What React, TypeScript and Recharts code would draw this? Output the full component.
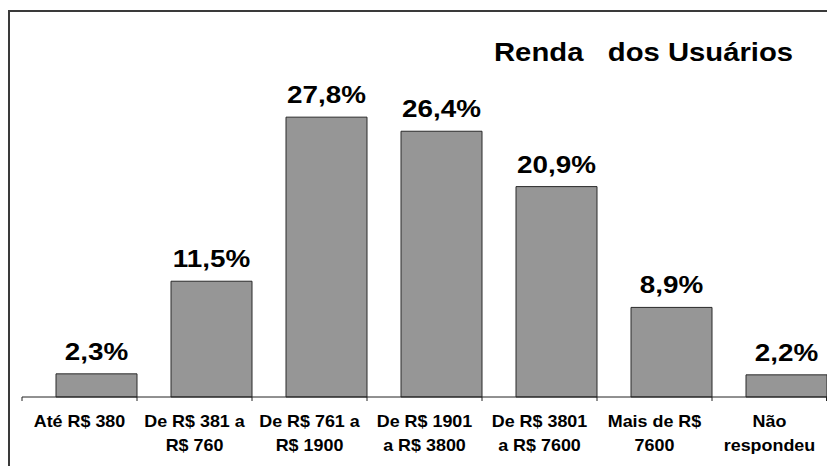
import React from "react";
import { BarChart, Bar, XAxis, YAxis, LabelList } from "recharts";

const categories = [
  "Até R$ 380",
  "De R$ 381 a R$ 760",
  "De R$ 761 a R$ 1900",
  "De R$ 1901 a R$ 3800",
  "De R$ 3801 a R$ 7600",
  "Mais de R$ 7600",
  "Não respondeu",
];

const tickLines: string[][] = [
  ["Até R$ 380"],
  ["De R$ 381 a", "R$ 760"],
  ["De R$ 761 a", "R$ 1900"],
  ["De R$ 1901", "a R$ 3800"],
  ["De R$ 3801", "a R$ 7600"],
  ["Mais de R$", "7600"],
  ["Não", "respondeu"],
];

const values = [2.3, 11.5, 27.8, 26.4, 20.9, 8.9, 2.2];

const title = "Renda   dos Usuários";

const data = categories.map((c, i) => ({ name: c, value: values[i], pad: 0 }));

const FONT = "'Liberation Sans', Arial, Helvetica, sans-serif";

const fmt = (v: number) => v.toFixed(1).replace(".", ",") + "%";

const CatTick = (props: any) => {
  const { x, y, payload, index } = props;
  const off = payload && payload.offset ? payload.offset : 0;
  const lines = tickLines[index] || [String(payload.value)];
  const last = index === categories.length - 1;
  return (
    <g>
      <line x1={x - off} x2={x - off} y1={y} y2={y + 4} stroke="#222" strokeWidth={1} />
      {last && <line x1={x + off - 0.5} x2={x + off - 0.5} y1={y} y2={y + 4} stroke="#222" strokeWidth={1} />}
      {lines.map((l, k) => (
        <text
          key={k}
          transform={`translate(${x},${y + 30 + k * 24}) scale(1.12,1)`}
          textAnchor="middle"
          fontFamily={FONT}
          fontWeight="bold"
          fontSize={16}
          fill="#000"
        >
          {l}
        </text>
      ))}
    </g>
  );
};

const BarLabel = (props: any) => {
  const { x, y, width, value } = props;
  const cx = Number(x) + Number(width) / 2;
  const by = Number(y) - 14;
  return (
    <text
      transform={`translate(${cx},${by}) scale(1.16,1)`}
      textAnchor="middle"
      fontFamily={FONT}
      fontWeight="bold"
      fontSize={24}
      fill="#000"
    >
      {fmt(Number(value))}
    </text>
  );
};

export default function App() {
  return (
    <div
      style={{
        position: "absolute",
        left: 0,
        top: 0,
        width: 827,
        height: 466,
        background: "#fff",
        overflow: "hidden",
      }}
    >
      <div
        style={{
          position: "absolute",
          left: 8,
          top: 10,
          width: 830,
          height: 470,
          borderLeft: "2px solid #3a3a3a",
          borderTop: "2px solid #3a3a3a",
        }}
      />
      <div
        style={{
          position: "absolute",
          left: 494,
          top: 38,
          fontFamily: FONT,
          fontWeight: "bold",
          fontSize: 25,
          lineHeight: "28px",
          whiteSpace: "pre",
          transform: "scaleX(1.17)",
          transformOrigin: "left top",
          color: "#000",
        }}
      >
        {title}
      </div>
      <div style={{ position: "absolute", left: 0, top: 0 }}>
        <BarChart
          width={827}
          height={466}
          data={data}
          margin={{ top: 95, right: 0, bottom: 0, left: 22 }}
          barGap={0}
        >
          <YAxis hide domain={[0, 30]} />
          <XAxis
            dataKey="name"
            height={69}
            interval={0}
            tickLine={false}
            tickSize={0}
            tickMargin={0}
            axisLine={{ stroke: "#222", strokeWidth: 1 }}
            tick={<CatTick />}
          />
          <Bar dataKey="pad" barSize={33} fill="none" stroke="none" isAnimationActive={false} />
          <Bar
            dataKey="value"
            barSize={81}
            fill="#969696"
            stroke="#2a2a2a"
            strokeWidth={1}
            isAnimationActive={false}
          >
            <LabelList dataKey="value" content={<BarLabel />} />
          </Bar>
        </BarChart>
      </div>
    </div>
  );
}
